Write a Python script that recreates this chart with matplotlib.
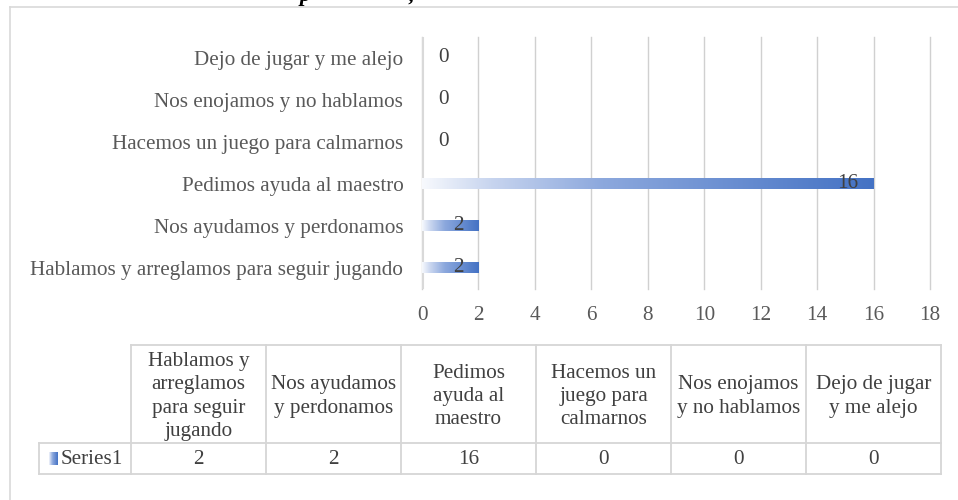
import numpy as np
import matplotlib
matplotlib.use('Agg')
import matplotlib.pyplot as plt
from matplotlib.colors import LinearSegmentedColormap

# Datos de la gráfica
categorias = ['Hablamos y arreglamos para seguir jugando',
              'Nos ayudamos y perdonamos',
              'Pedimos ayuda al maestro',
              'Hacemos un juego para calmarnos',
              'Nos enojamos y no hablamos',
              'Dejo de jugar y me alejo']
valores = [2, 2, 16, 0, 0, 0]
encabezados = ['Hablamos y\narreglamos\npara seguir\njugando',
               'Nos ayudamos\ny perdonamos',
               'Pedimos\nayuda al\nmaestro',
               'Hacemos un\njuego para\ncalmarnos',
               'Nos enojamos\ny no hablamos',
               'Dejo de jugar\ny me alejo']
serie = 'Series1'
ticks_x = list(range(0, 19, 2))

plt.rcParams['font.family'] = ['Liberation Serif', 'DejaVu Serif']
W, H = 958, 500
gris = '#d9d9d9'
azul = '#4472C4'
cmap = LinearSegmentedColormap.from_list(
    'grad', [(0, '#f7f9fd'), (0.15, '#c8d5ef'), (0.4, '#8ca8dd'), (1, azul)])
grad = np.linspace(0, 1, 256).reshape(1, -1)

fig = plt.figure(figsize=(W / 100, H / 100), dpi=100)

# capa de fondo en pixeles para marco y tabla
ov = fig.add_axes([0, 0, 1, 1])
ov.set_xlim(0, W)
ov.set_ylim(H, 0)
ov.axis('off')

# marco del grafico
ov.plot([10, W], [6.5, 6.5], color=gris, lw=1.2)
ov.plot([10, 10], [6.5, H], color=gris, lw=1.2)

# fragmento del titulo del documento (cortado arriba)
fig.text(300 / W, 1 - 1 / H, 'p', fontsize=16, fontweight='bold', fontstyle='italic',
         va='baseline', color='black')
fig.text(408 / W, 1 - 1 / H, ',', fontsize=16, fontweight='bold', fontstyle='italic',
         va='baseline', color='black')

# grafico de barras
ax = fig.add_axes([422 / W, 1 - 288.5 / H, 508 / W, 252 / H])
h = 0.26
for i, v in enumerate(valores):
    if v > 0:
        ax.imshow(grad, extent=[0, v, i - h / 2, i + h / 2], aspect='auto',
                  cmap=cmap, zorder=3, interpolation='bilinear')
        ax.annotate(str(v), (v, i), xytext=(-11, 0), textcoords='offset points',
                    ha='right', va='center', fontsize=15.2, color='#404040', zorder=4)
    else:
        ax.annotate(str(v), (v, i), xytext=(11.5, 0), textcoords='offset points',
                    ha='left', va='center', fontsize=15.2, color='#404040', zorder=4)

ax.set_xlim(0, 18)
ax.set_ylim(-0.5, len(categorias) - 0.5)
ax.set_xticks(ticks_x)
ax.set_yticks(range(len(categorias)))
ax.set_yticklabels(categorias)
ax.tick_params(axis='both', length=0, labelsize=15.2, labelcolor='#595959')
ax.tick_params(axis='y', pad=13.5)
ax.tick_params(axis='x', pad=12.5)
for s in ax.spines.values():
    s.set_visible(False)
ax.grid(axis='x', color='#d0d0d0', lw=1.0, zorder=0)
for gl in ax.get_xgridlines():
    gl.set_clip_on(False)
ax.axvline(0, color=gris, lw=2.2, zorder=2)
ax.set_facecolor('none')

# tabla de datos
cols = [131 + 135 * k for k in range(len(valores) + 1)]
y_top, y_mid, y_bot = 345, 443, 474
lc = '#d6d6d6'
ov.plot([cols[0], cols[-1]], [y_top, y_top], color=lc, lw=1.3)
ov.plot([39, cols[-1]], [y_mid, y_mid], color=lc, lw=1.3)
ov.plot([39, cols[-1]], [y_bot, y_bot], color=lc, lw=1.3)
ov.plot([39, 39], [y_mid, y_bot], color=lc, lw=1.3)
for c in cols:
    ov.plot([c, c], [y_top, y_bot], color=lc, lw=1.3)

for k, (enc, v) in enumerate(zip(encabezados, valores)):
    xc = (cols[k] + cols[k + 1]) / 2
    ov.text(xc, 396.5, enc, ha='center', va='center', fontsize=15.2,
            color='#404040', linespacing=1.3)
    ov.text(xc, 459, str(v), ha='center', va='center', fontsize=15.2, color='#404040')

# clave de la serie
ov.imshow(grad, extent=[49, 58, 465, 452], aspect='auto', cmap=cmap, interpolation='bilinear')
ov.set_xlim(0, W)
ov.set_ylim(H, 0)
ov.text(61, 459, serie, ha='left', va='center', fontsize=15.2, color='#404040')

fig.savefig('out.png', dpi=100)
